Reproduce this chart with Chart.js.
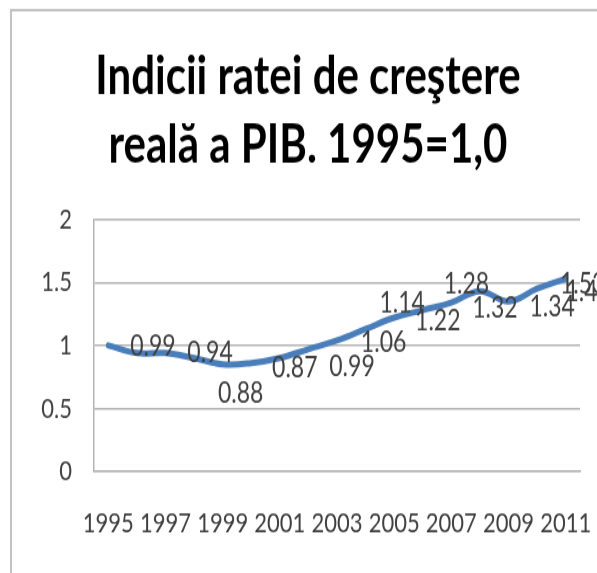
<!DOCTYPE html>
<html>
<head>
<meta charset="utf-8">
<script src="https://cdn.jsdelivr.net/npm/chart.js@4/dist/chart.umd.min.js"></script>
<style>
  html, body { margin: 0; padding: 0; background: #ffffff; overflow: hidden; }
  #wrap { position: absolute; left: 0; top: 0; width: 597px; height: 451px;
          transform: scaleY(1.2705); transform-origin: 0 0; }
</style>
</head>
<body>
<div id="wrap"><canvas id="c"></canvas></div>
<script>
// ---- data ----
const years = ['1995','1996','1997','1998','1999','2000','2001','2002','2003',
               '2004','2005','2006','2007','2008','2009','2010','2011'];
const gdpIndex = [1.00, 0.94, 0.94, 0.90, 0.85, 0.86, 0.90, 0.97, 1.04,
                  1.13, 1.22, 1.28, 1.34, 1.43, 1.35, 1.45, 1.53];
// data label texts as printed in the chart, and the point each one is attached to
const labelTexts  = ['0.99','0.94','0.88','0.87','0.99','1.06','1.14','1.22','1.28','1.32','1.34','1.43','1.53'];
const labelAnchor = [1, 3, 4, 6, 8, 9, 10, 11, 12, 13, 15, 15, 16];
const titleLines = ['Indicii ratei de creştere', 'reală a PIB. 1995=1,0'];
const yTicks = { min: 0, max: 2, step: 0.5 };

// ---- styles ----
const FONT = 'Lato, "Open Sans", sans-serif';
const GRID = '#b4b4b4';
const TEXT = '#404040';
// label offsets (pixels, relative to their anchor point)
const labelOffsets = [[16,-5],[16,-4],[18,23],[15,8],[15,21],[18,11],[8,-11],[15,9],[15,-15],[15,13],[15,14],[51,2],[17,4]];

const framePlugin = {
  id: 'frame',
  beforeDraw(chart) {
    const ctx = chart.ctx;
    ctx.save();
    ctx.strokeStyle = '#c2c2c2';
    ctx.lineWidth = 2;
    ctx.beginPath();
    ctx.moveTo(11, chart.height);
    ctx.lineTo(11, 8);
    ctx.lineTo(chart.width, 8);
    ctx.stroke();
    ctx.restore();
  }
};

const labelPlugin = {
  id: 'pointLabels',
  afterDatasetsDraw(chart) {
    const ctx = chart.ctx;
    const pts = chart.getDatasetMeta(0).data;
    ctx.save();
    ctx.font = '23px ' + FONT;
    ctx.fillStyle = TEXT;
    ctx.textAlign = 'center';
    ctx.textBaseline = 'middle';
    labelTexts.forEach((t, k) => {
      const p = pts[labelAnchor[k]];
      const o = labelOffsets[k];
      ctx.fillText(t, p.x + o[0], p.y + o[1]);
    });
    ctx.restore();
  }
};

new Chart(document.getElementById('c'), {
  type: 'line',
  data: {
    labels: years,
    datasets: [{
      data: gdpIndex,
      borderColor: '#4a7ebb',
      borderWidth: 5,
      pointRadius: 0,
      tension: 0.4,
      fill: false,
      borderCapStyle: 'round'
    }]
  },
  options: {
    responsive: true,
    maintainAspectRatio: false,
    animation: false,
    devicePixelRatio: 1,
    layout: { padding: { left: 36, top: 8, right: 17, bottom: 0 } },
    plugins: {
      legend: { display: false },
      tooltip: { enabled: false },
      title: {
        display: true,
        text: titleLines,
        color: '#000000',
        font: { family: FONT, size: 42, weight: 'bold', lineHeight: 1.27 },
        padding: { top: 26, bottom: 32 }
      }
    },
    scales: {
      x: {
        type: 'category',
        offset: true,
        grid: { display: false, drawTicks: false },
        border: { display: true, color: GRID, width: 1.5 },
        ticks: {
          autoSkip: false, maxRotation: 0, minRotation: 0, padding: 28,
          color: TEXT, font: { family: FONT, size: 22 },
          callback: (v, i) => (i % 2 === 0 ? years[i] : '')
        },
        afterFit: s => { s.height = 80; s.paddingLeft = 0; s.paddingRight = 0; }
      },
      y: {
        min: yTicks.min, max: yTicks.max,
        grid: { color: GRID, lineWidth: 1.5, drawTicks: false },
        border: { display: true, color: GRID, width: 1.5 },
        ticks: { stepSize: yTicks.step, padding: 22, color: TEXT, font: { family: FONT, size: 22 },
                 callback: v => String(v) },
        afterFit: s => { s.width = 58; s.paddingTop = 0; s.paddingBottom = 0; }
      }
    }
  },
  plugins: [framePlugin, labelPlugin]
});
</script>
</body>
</html>
